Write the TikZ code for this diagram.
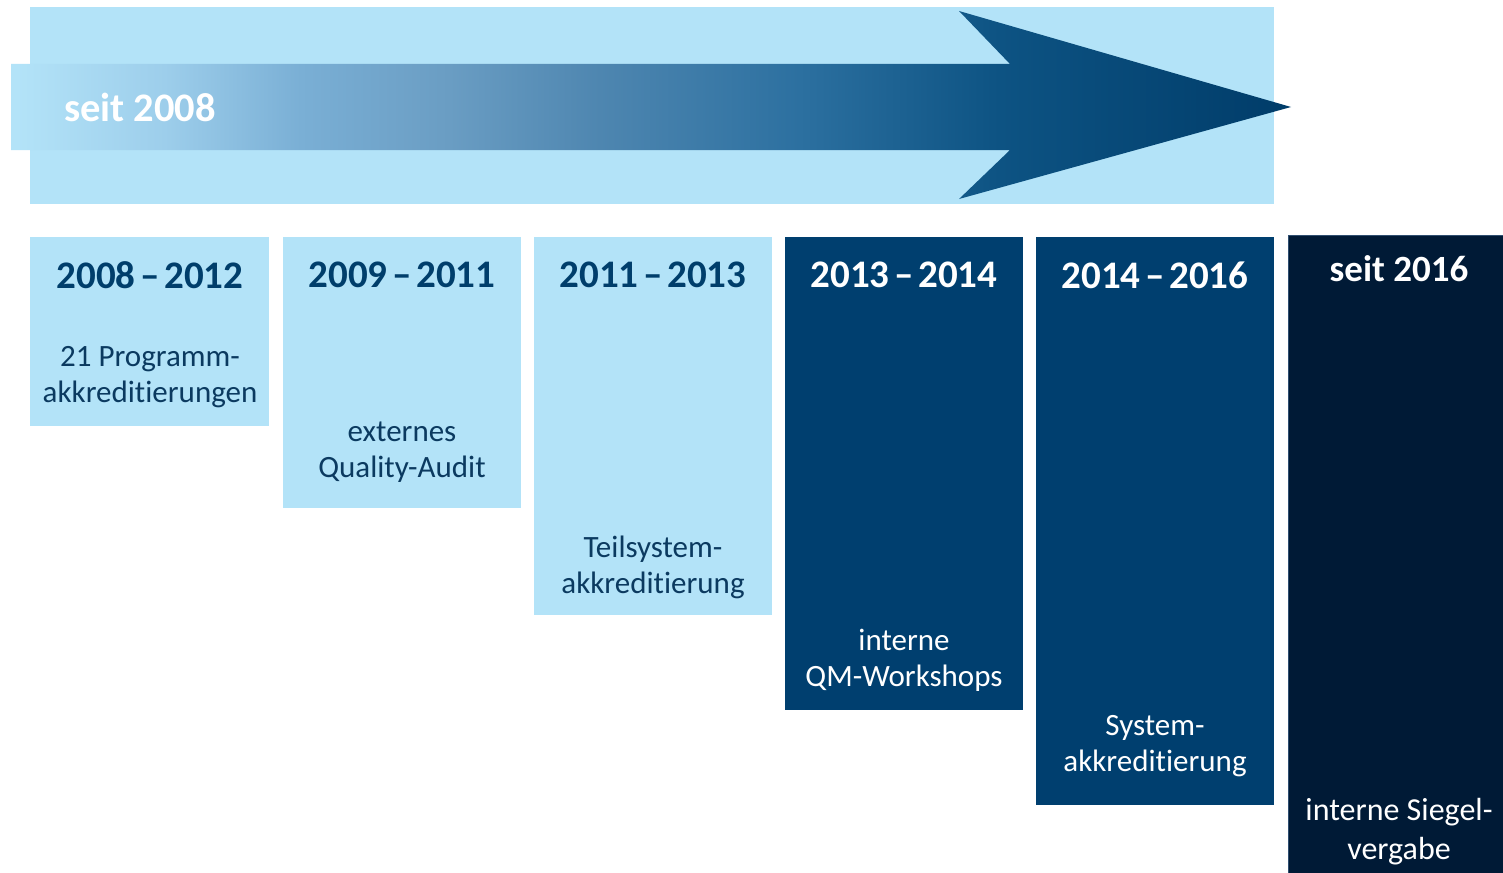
\documentclass[tikz,border=0pt]{standalone}
\usepackage{fontspec}
\setmainfont{Carlito}[Ligatures=NoCommon, RawFeature={-liga;-clig;-calt}]
\definecolor{lightbg}{HTML}{B3E3F8}
\definecolor{darkbox}{HTML}{003F6F}
\definecolor{navybox}{HTML}{001A36}
\definecolor{navyline}{HTML}{2F4E70}
\definecolor{arrowdark}{HTML}{003C69}
\definecolor{headtxt}{HTML}{003E6B}
\definecolor{bodytxt}{HTML}{0B3A60}
\definecolor{ashA}{HTML}{9DCEEB}
\definecolor{ashB}{HTML}{7AAFD5}
\definecolor{ashC}{HTML}{6A9DC3}
\definecolor{ashD}{HTML}{4E86B0}
\definecolor{ashE}{HTML}{2C70A0}
\definecolor{ashF}{HTML}{0D5383}
\pgfdeclarehorizontalshading{arrowshade}{100bp}{color(0bp)=(lightbg); color(25.2bp)=(lightbg); color(31bp)=(ashA); color(36.3bp)=(ashB); color(42.1bp)=(ashC); color(48bp)=(ashD); color(55.8bp)=(ashE); color(63.6bp)=(ashF); color(75bp)=(arrowdark); color(100bp)=(arrowdark)}
\newcommand\yrdash{\hspace{0.12em}–\hspace{0.12em}}
\newcommand\nolig{\kern0pt}
\tikzset{
  yearhead/.style={font=\fontsize{39}{44}\selectfont\bfseries, inner sep=0pt},
  bodytext/.style={font=\fontsize{31}{36}\selectfont, align=center, inner sep=0pt},
  lighttxt/.style={text=headtxt},
  lightbody/.style={text=bodytxt},
  darktxt/.style={text=white},
}
\begin{document}
\begin{tikzpicture}[x=1pt,y=-1pt]
\useasboundingbox (0,0) rectangle (1503,872);
% background band
\fill[lightbg] (30,7) rectangle (1274,204);
% arrow
\path[shading=arrowshade, shading angle=0]
  (11,64) -- (1010,64) -- (959,11) -- (1291,107) -- (959,199) -- (1010,150) -- (11,150) -- cycle;
\node[font=\fontsize{40.5}{45}\selectfont\bfseries, text=white, inner sep=0pt, anchor=west] (seit) at (64,107) {seit 2008};
% boxes
\fill[lightbg] (30,237) rectangle (269,426);
\fill[lightbg] (283,237) rectangle (521,508);
\fill[lightbg] (534,237) rectangle (772,615);
\fill[darkbox] (785,237) rectangle (1023,710);
\fill[darkbox] (1036,237) rectangle (1274,805);
\filldraw[fill=navybox, draw=navyline, line width=1pt] (1288.5,235.5) rectangle (1510,880);
% headers
\node[yearhead, lighttxt] (h1) at (150,275) {2008\yrdash2012};
\node[yearhead, lighttxt] (h2) at (402,275) {2009\yrdash2011};
\node[yearhead, lighttxt] (h3) at (653,275) {2011\yrdash2013};
\node[yearhead, darktxt] (h4) at (904,275) {2013\yrdash2014};
\node[yearhead, darktxt] (h5) at (1155,275) {2014\yrdash2016};
\node[font=\fontsize{37}{41}\selectfont\bfseries, text=white, inner sep=0pt] (h6) at (1399,269) {seit 2016};
% body texts
\node[bodytext, lightbody] (b1) at (150,377) {21 Programm-\\akkredit\nolig ierungen};
\node[bodytext, lightbody] (b2) at (402,452) {externes\\Quality-Audit};
\node[bodytext, lightbody] (b3) at (653,567) {Teilsystem-\\akkredit\nolig ierung};
\node[bodytext, darktxt] (b4) at (904,660) {interne\\QM-Workshops};
\node[bodytext, darktxt] (b5) at (1155,746) {System-\\akkredit\nolig ierung};
\node[font=\fontsize{32}{39}\selectfont, align=center, inner sep=0pt, text=white] (b6) at (1399,832) {interne Siegel-\\vergabe};
\end{tikzpicture}
\end{document}
